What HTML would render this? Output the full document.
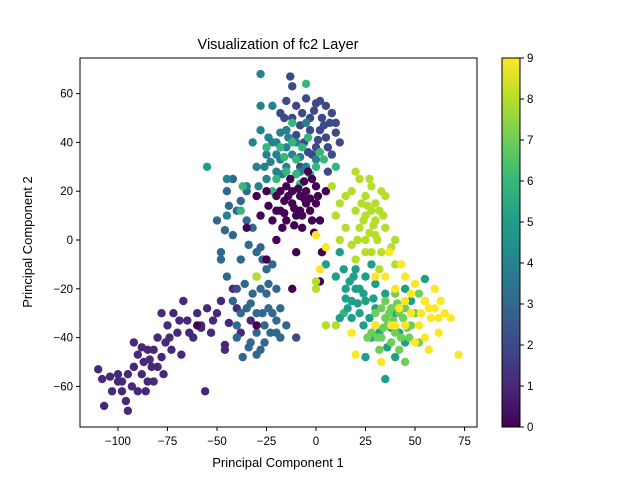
<!DOCTYPE html>
<html><head><meta charset="utf-8"><style>
body{margin:0;background:#fff;}
svg text{font-family:"Liberation Sans",sans-serif;fill:#000;}
</style></head><body>
<svg id="chart" width="640" height="480" xmlns="http://www.w3.org/2000/svg">
<defs><linearGradient id="vir" x1="0" y1="1" x2="0" y2="0">
<stop offset="0" stop-color="#440154"/><stop offset="0.111" stop-color="#482878"/><stop offset="0.222" stop-color="#3e4989"/><stop offset="0.333" stop-color="#31688e"/><stop offset="0.444" stop-color="#26828e"/><stop offset="0.556" stop-color="#1f9e89"/><stop offset="0.667" stop-color="#35b779"/><stop offset="0.778" stop-color="#6ece58"/><stop offset="0.889" stop-color="#b5de2b"/><stop offset="1" stop-color="#fde725"/>
</linearGradient></defs>
<text x="278" y="49" font-size="14.5" text-anchor="middle">Visualization of fc2 Layer</text>
<g id="points"></g>
<rect x="80" y="58" width="397" height="369" fill="none" stroke="#000" stroke-width="1"/>
<g id="xticks"></g>
<g id="yticks"></g>
<text x="278" y="467" font-size="13" text-anchor="middle">Principal Component 1</text>
<text x="32" y="242" font-size="13" text-anchor="middle" transform="rotate(-90 32 242)">Principal Component 2</text>
<rect x="502" y="58" width="18" height="369" fill="url(#vir)" stroke="#000" stroke-width="1"/>
<g id="cbticks"></g>
</svg>
<script>
const xTicks=[-100,-75,-50,-25,0,25,50,75];
const yTicks=[-60,-40,-20,0,20,40,60];
const cbTicks=[0,1,2,3,4,5,6,7,8,9];
const colors=["#440154","#482878","#3e4989","#31688e","#26828e","#1f9e89","#35b779","#6ece58","#b5de2b","#fde725"];
const pts1=[[-110,-53],[-108,-57],[-107,-68],[-103,-62],[-100,-55],[-98,-58],[-96,-66],[-95,-70],[-93,-60],[-92,-42],[-90,-47],[-88,-55],[-87,-50],[-86,-62],[-85,-45],[-83,-52],[-82,-58],[-80,-40],[-78,-48],[-77,-55],[-75,-35],[-73,-45],[-72,-30],[-70,-38],[-68,-47],[-67,-25],[-65,-33],[-62,-40],[-60,-30],[-58,-35],[-56,-62],[-55,-28],[-53,-38],[-50,-30],[-48,-25],[-46,-45],[-44,-34],[-42,-20],[-40,-28],[-38,-38],[-95,-55],[-100,-58],[-90,-62],[-85,-58],[-80,-52],[-88,-44],[-76,-42],[-64,-38],[-58,-36],[-78,-30],[-46,-43],[-33,-33],[-104,-56],[-92,-52],[-84,-49],[-74,-40],[-69,-33],[-52,-33],[-98,-62],[-82,-45]];
const pts3=[[-48,-5],[-45,-15],[-42,-25],[-40,-35],[-38,-8],[-35,-28],[-33,-42],[-30,-15],[-28,-45],[-27,-30],[-25,-22],[-23,-38],[-22,-10],[-20,-33],[-18,-28],[-15,-35],[-40,-40],[-32,-22],[-45,20],[-40,12],[-35,8],[-30,-5],[-37,-48],[-30,-38],[-28,-20],[-28,-3],[-20,-20],[-25,-12],[-50,8],[-42,2],[-48,-8],[-32,5],[-36,-18],[-26,-42],[-22,-30],[-30,-47],[-35,20],[-44,14],[-42,25],[-26,-35],[-33,-26],[-24,-28],[-38,-30],[-30,-30],[-20,-38],[-27,-8],[-34,-2],[-46,4],[-38,16],[-24,-18],[-34,-44],[-18,-40]];
const pts2=[[-15,57],[-10,55],[-5,58],[0,56],[-12,50],[-8,47],[5,55],[-12,63],[-13,67],[-3,50],[2,45],[-18,52],[10,48],[-6,40],[-2,35],[0,38],[5,42],[8,35],[12,40],[-3,45],[-8,30],[6,28],[-15,45],[3,50],[7,48],[-10,-40],[-40,-20],[-1,53],[-7,52],[4,47],[8,52],[-10,43],[1,41],[10,44],[-4,36],[6,38],[-16,50],[2,57]];
const pts0=[[-25,20],[-20,18],[-18,12],[-15,22],[-12,15],[-10,10],[-8,18],[-5,20],[-3,12],[0,15],[2,8],[5,20],[-22,8],[-17,5],[-13,25],[-7,5],[-2,25],[3,-5],[-30,18],[-28,10],[-10,-5],[-20,0],[-15,8],[-8,12],[-12,20],[-5,15],[0,22],[-25,-8],[-35,5],[-1,3],[-4,28],[-12,-20],[2,-17],[-30,-35],[-60,-35],[-6,17],[-16,16],[-11,13],[-14,18],[-9,21],[-3,17],[-7,10],[-18,20],[-2,8],[-20,12],[-11,6],[-6,24],[-16,11],[1,18],[-24,14]];
const pts4=[[-20,35],[-15,30],[-10,40],[-5,30],[0,33],[-25,25],[-8,28],[-22,40],[-28,45],[-18,44],[-30,30],[-25,35],[-20,28],[-15,38],[-28,68],[-32,40],[-28,55],[-22,55],[-45,25],[-45,10],[-15,45],[-5,48],[-35,22],[-23,32],[-18,33],[-12,35],[-26,30],[-20,40],[-24,42],[-14,42],[-17,27],[-29,22],[-8,34]];
const pts5=[[-55,30],[10,-15],[15,-20],[20,-12],[22,-30],[25,-25],[28,-40],[30,-18],[20,-20],[25,-15],[27,-32],[18,-25],[14,-12],[16,-28],[22,-20],[24,-35],[30,-28],[35,-22],[40,-30],[45,-20],[48,-25],[55,-16],[35,-57],[25,-48],[40,-48],[12,-5],[12,-32],[5,-10],[28,-10],[18,-32],[32,-38],[45,-42],[17,-17],[21,-26],[19,-15],[24,-22],[15,-24],[38,-36],[42,-38],[36,-44],[29,-24]];
const pts6=[[-5,64],[-12,48],[-15,28],[-10,33],[-3,27],[2,36],[5,20],[-20,25],[-18,38],[-8,23],[-25,38],[10,30],[-38,12],[-22,20],[0,30],[-7,38],[14,-30],[-37,22],[-12,40],[-4,42],[-16,34],[4,33],[-10,27]];
const pts7=[[30,-30],[33,-40],[36,-35],[38,-28],[40,-38],[42,-45],[44,-32],[47,-40],[50,-30],[52,-42],[35,-25],[28,-38],[45,-50],[40,-22],[48,-35],[35,-32],[42,-30],[55,-25],[38,-42],[30,-35],[26,-40],[32,-45],[52,-22],[45,-28],[34,-36],[39,-33],[43,-40],[37,-30],[31,-40],[46,-36],[41,-26],[33,-28]];
const pts8=[[10,10],[12,15],[15,5],[18,20],[20,12],[22,25],[25,18],[28,22],[30,8],[32,12],[35,18],[18,-2],[25,0],[28,-5],[30,2],[33,-5],[15,18],[20,28],[8,22],[12,0],[0,-17],[0,-20],[25,10],[22,5],[35,5],[38,-3],[40,0],[30,15],[25,-5],[20,-8],[-30,-15],[10,-35],[5,-35],[28,12],[33,20],[40,-10],[32,-12],[27,25],[26,14],[29,6],[23,15],[31,0],[27,3],[24,8],[34,10],[21,0]];
const pts9=[[0,2],[5,-3],[2,-12],[30,-15],[40,-20],[45,-25],[48,-30],[50,-18],[52,-35],[55,-25],[58,-32],[60,-28],[62,-38],[65,-30],[68,-32],[72,-47],[55,-40],[50,-42],[45,-35],[42,-28],[60,-20],[57,-45],[35,-15],[43,-10],[38,-35],[63,-25],[37,-5],[30,-35],[18,-38],[45,-15],[40,-35],[33,-50],[20,-47],[53,-30],[57,-28],[62,-32],[48,-22]];
const classPts=[pts0,pts1,pts2,pts3,pts4,pts5,pts6,pts7,pts8,pts9];
const drawOrder=[1,3,2,4,6,0,8,5,7,9];
const X=v=>316+v*1.98, Y=v=>240-v*2.44, CB=v=>427-v*41;
const NS="http://www.w3.org/2000/svg";
const P=document.getElementById('points');
drawOrder.forEach(c=>{classPts[c].forEach(p=>{
 const e=document.createElementNS(NS,'circle');
 e.setAttribute('cx',X(p[0]));e.setAttribute('cy',Y(p[1]));e.setAttribute('r',4.2);e.setAttribute('fill',colors[c]);
 
 
 P.appendChild(e);});});
const XT=document.getElementById('xticks');
xTicks.forEach(t=>{const x=X(t);
 const l=document.createElementNS(NS,'line');l.setAttribute('x1',x);l.setAttribute('x2',x);l.setAttribute('y1',427);l.setAttribute('y2',431);l.setAttribute('stroke','#000');
 
 
 XT.appendChild(l);
 const s=document.createElementNS(NS,'text');s.setAttribute('x',x);s.setAttribute('y',445);s.setAttribute('font-size','11.5');s.setAttribute('text-anchor','middle');s.textContent=t<0?'\u2212'+(-t):t;
 
 
 XT.appendChild(s);});
const YT=document.getElementById('yticks');
yTicks.forEach(t=>{const y=Y(t);
 const l=document.createElementNS(NS,'line');l.setAttribute('x1',76);l.setAttribute('x2',80);l.setAttribute('y1',y);l.setAttribute('y2',y);l.setAttribute('stroke','#000');
 
 
 YT.appendChild(l);
 const s=document.createElementNS(NS,'text');s.setAttribute('x',73);s.setAttribute('y',y+4);s.setAttribute('font-size','11.5');s.setAttribute('text-anchor','end');s.textContent=t<0?'\u2212'+(-t):t;
 
 
 YT.appendChild(s);});
const CT=document.getElementById('cbticks');
cbTicks.forEach(t=>{const y=CB(t);
 const l=document.createElementNS(NS,'line');l.setAttribute('x1',520);l.setAttribute('x2',524);l.setAttribute('y1',y);l.setAttribute('y2',y);l.setAttribute('stroke','#000');
 
 
 CT.appendChild(l);
 const s=document.createElementNS(NS,'text');s.setAttribute('x',527);s.setAttribute('y',y+4);s.setAttribute('font-size','11.5');s.textContent=t;
 
 
 CT.appendChild(s);});
</script>
</body></html>
